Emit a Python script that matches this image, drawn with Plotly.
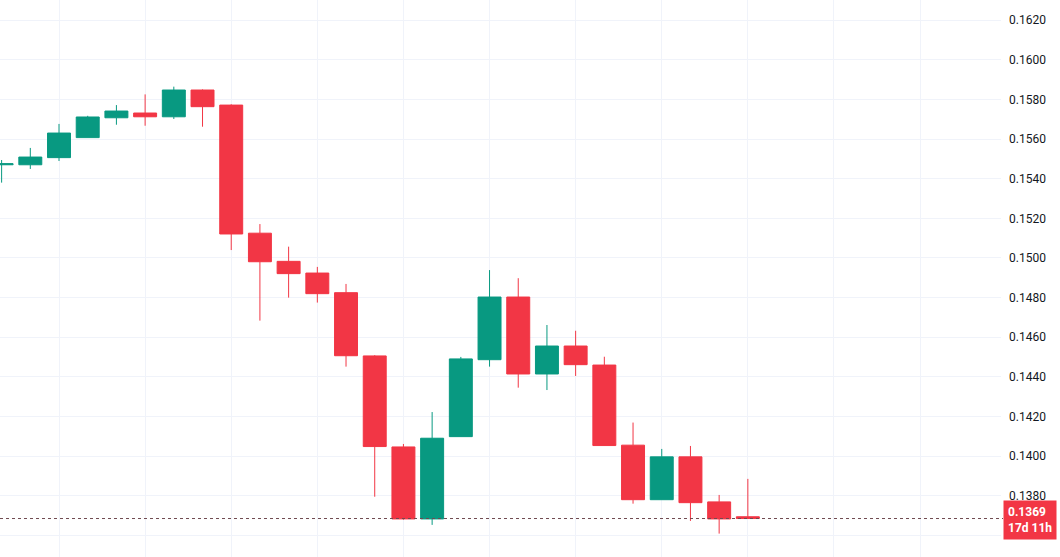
import plotly.graph_objects as go

# Candle index (bars, oldest to newest)
bars = list(range(27))
opens = [0.15470, 0.15470, 0.15506, 0.15607, 0.15707, 0.15731, 0.15712, 0.15847, 0.15771,
         0.15125, 0.14983, 0.14924, 0.14825, 0.14506, 0.14047, 0.13684, 0.14099, 0.14487,
         0.14803, 0.14415, 0.14556, 0.14460, 0.14056, 0.13781, 0.13997, 0.13770, 0.13695]
highs = [0.15494, 0.15555, 0.15676, 0.15717, 0.15771, 0.15825, 0.15864, 0.15850, 0.15775,
         0.15171, 0.15057, 0.14955, 0.14869, 0.14510, 0.14062, 0.14223, 0.14501, 0.14939,
         0.14898, 0.14662, 0.14633, 0.14502, 0.14170, 0.14037, 0.14052, 0.13805, 0.13886]
lows = [0.15380, 0.15449, 0.15489, 0.15607, 0.15672, 0.15667, 0.15701, 0.15662, 0.15040,
        0.14684, 0.14800, 0.14775, 0.14452, 0.13796, 0.13680, 0.13654, 0.14099, 0.14452,
        0.14346, 0.14334, 0.14405, 0.14054, 0.13761, 0.13781, 0.13674, 0.13610, 0.13684]
closes = [0.15475, 0.15509, 0.15630, 0.15711, 0.15741, 0.15712, 0.15847, 0.15763, 0.15121,
          0.14981, 0.14921, 0.14820, 0.14507, 0.14049, 0.13684, 0.14091, 0.14491, 0.14803,
          0.14415, 0.14556, 0.14462, 0.14054, 0.13781, 0.13997, 0.13766, 0.13684, 0.13686]

price_ticks = [0.1360, 0.1380, 0.1400, 0.1420, 0.1440, 0.1460, 0.1480, 0.1500, 0.1520,
               0.1540, 0.1560, 0.1580, 0.1600, 0.1620]
price_labels = ["", "0.1380", "0.1400", "0.1420", "0.1440", "0.1460", "0.1480", "0.1500",
                "0.1520", "0.1540", "0.1560", "0.1580", "0.1600", "0.1620"]
last_label = "0.1369"
countdown = "17d 11h"

UP = "#089981"
DOWN = "#F23645"

fig = go.Figure(go.Candlestick(
    x=bars, open=opens, high=highs, low=lows, close=closes,
    increasing=dict(line=dict(color=UP, width=1), fillcolor=UP),
    decreasing=dict(line=dict(color=DOWN, width=1), fillcolor=DOWN),
    whiskerwidth=0, hoverinfo="skip", showlegend=False,
))

last_close = closes[-1]
fig.add_shape(type="line", xref="paper", yref="y", x0=0, x1=1.002,
              y0=last_close, y1=last_close,
              line=dict(color="#6e4a50", width=1, dash="dot"))

fig.add_annotation(xref="paper", yref="y", x=1.002, y=last_close - 0.00005,
                   xanchor="left", yanchor="middle", showarrow=False,
                   text=f"<b>{last_label}</b><br><b>{countdown}</b>",
                   align="left", bgcolor=DOWN, borderpad=4,
                   font=dict(color="white", size=12, family="Roboto"))

fig.update_layout(
    width=1060, height=557,
    margin=dict(l=0, r=59, t=0, b=0, autoexpand=False),
    paper_bgcolor="white", plot_bgcolor="white",
    boxgap=0.2, boxgroupgap=0,
    font=dict(family="Roboto", size=12, color="#131722"),
    xaxis=dict(range=[-0.056, 34.82], rangeslider=dict(visible=False),
               showticklabels=False, tick0=2, dtick=3, showgrid=True,
               gridcolor="#f0f3fa", gridwidth=1, zeroline=False, showline=False,
               fixedrange=True, automargin=False),
    yaxis=dict(side="right", range=[0.13492, 0.16301], tickvals=price_ticks,
               ticktext=price_labels, showgrid=True, gridcolor="#f0f3fa",
               gridwidth=1, zeroline=False, showline=False, ticks="",
               ticklabelstandoff=7, automargin=False,
               tickfont=dict(size=12, color="#131722")),
    hovermode=False,
)

fig.write_html("out.html", config={"displayModeBar": False},
               post_script="document.body.style.margin='0';document.body.style.overflow='hidden';")
